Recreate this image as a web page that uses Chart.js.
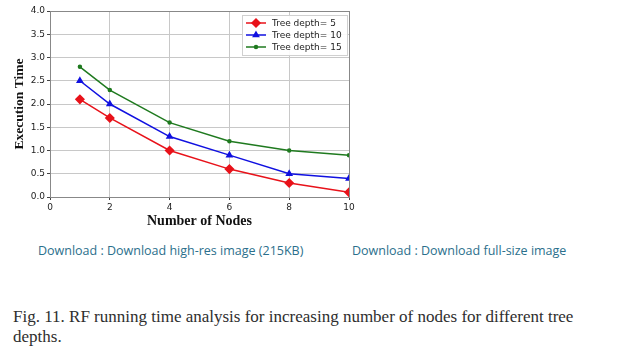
<!DOCTYPE html>
<html><head><meta charset="utf-8">
<script src="https://cdn.jsdelivr.net/npm/chart.js@4/dist/chart.umd.min.js"></script>
<style>
body{margin:0;background:#fff;width:643px;height:357px;position:relative;overflow:hidden;}
#wrap{position:absolute;left:0;top:0;width:360px;height:230px;}
.dl{position:absolute;top:242px;font-family:"Open Sans",sans-serif;font-size:12.5px;color:#2b6f8c;white-space:nowrap;}
.cap{position:absolute;left:13px;top:307px;width:582px;font-family:"Liberation Serif",serif;font-size:17px;line-height:20px;color:#2e2e2e;}
</style></head><body>
<div id="wrap"><canvas id="c" width="360" height="230"></canvas></div>
<div class="dl" style="left:38px">Download : Download high-res image (215KB)</div>
<div class="dl" style="left:352px">Download : Download full-size image</div>
<div class="cap">Fig. 11. RF running time analysis for increasing number of nodes for different tree depths.</div>
<script>
const nodes = [1, 2, 4, 6, 8, 10];
const depth5 = [2.1, 1.7, 1.0, 0.6, 0.3, 0.1];
const depth10 = [2.5, 2.0, 1.3, 0.9, 0.5, 0.4];
const depth15 = [2.8, 2.3, 1.6, 1.2, 1.0, 0.9];
const seriesNames = ['Tree depth= 5', 'Tree depth= 10', 'Tree depth= 15'];

const toXY = arr => arr.map((v, i) => ({x: nodes[i], y: v}));

const legendPlugin = {
  id: 'boxLegend',
  afterDraw(chart) {
    const ctx = chart.ctx;
    const x0 = 242, y0 = 15, w = 105, h = 40;
    ctx.save();
    ctx.fillStyle = 'rgba(255,255,255,0.9)';
    ctx.strokeStyle = '#d0d0d0';
    ctx.lineWidth = 1;
    ctx.fillRect(x0, y0, w, h);
    ctx.strokeRect(x0 + 0.5, y0 + 0.5, w, h);
    chart.data.datasets.forEach((ds, i) => {
      const y = y0 + 8 + i * 12;
      ctx.strokeStyle = ds.borderColor;
      ctx.lineWidth = 1.5;
      ctx.beginPath(); ctx.moveTo(x0 + 4, y); ctx.lineTo(x0 + 24, y); ctx.stroke();
      ctx.fillStyle = ds.backgroundColor;
      Chart.helpers.drawPoint(ctx, {pointStyle: ds.pointStyle, radius: ds.pointRadius, borderWidth: 1}, x0 + 14, y);
      ctx.fillStyle = '#222';
      ctx.font = '9px "DejaVu Sans", sans-serif';
      ctx.textBaseline = 'middle';
      ctx.fillText(ds.label, x0 + 30, y + 0.5);
    });
    ctx.restore();
  }
};

const borderPlugin = {
  id: 'frame',
  afterDraw(chart) {
    const a = chart.chartArea, ctx = chart.ctx;
    ctx.save();
    ctx.strokeStyle = '#888';
    ctx.lineWidth = 1;
    ctx.strokeRect(a.left + 0.5, a.top + 0.5, a.right - a.left, a.bottom - a.top);
    ctx.restore();
  }
};

new Chart(document.getElementById('c'), {
  type: 'line',
  data: {
    datasets: [
      {label: seriesNames[0], data: toXY(depth5), borderColor: '#e8121a', backgroundColor: '#e8121a', pointStyle: 'rectRot', pointRadius: 4, borderWidth: 1.5},
      {label: seriesNames[1], data: toXY(depth10), borderColor: '#1010e0', backgroundColor: '#1010e0', pointStyle: 'triangle', pointRadius: 3, borderWidth: 1.5},
      {label: seriesNames[2], data: toXY(depth15), borderColor: '#1f7a1f', backgroundColor: '#1f7a1f', pointStyle: 'circle', pointRadius: 1.5, borderWidth: 1.5}
    ]
  },
  options: {
    responsive: false,
    animation: false,
    layout: {padding: {top: 11, right: 11, left: 11, bottom: 0}},
    plugins: {legend: {display: false}, tooltip: {enabled: false}},
    elements: {line: {tension: 0}},
    scales: {
      x: {
        type: 'linear', min: 0, max: 10,
        ticks: {stepSize: 2, color: '#222', font: {size: 9, family: '"DejaVu Sans", sans-serif'}, padding: 2},
        grid: {color: '#c8c8c8', drawTicks: true, tickLength: 3, tickColor: '#444'},
        border: {display: false},
        title: {display: true, text: 'Number of Nodes', color: '#111', font: {family: '"Liberation Serif", serif', size: 14, weight: 'bold'}, padding: {top: 0, bottom: 0}},
        afterFit(s) { s.height = 33; }
      },
      y: {
        min: 0, max: 4,
        ticks: {stepSize: 0.5, color: '#222', font: {size: 9, family: '"DejaVu Sans", sans-serif'}, padding: 2, callback: v => v.toFixed(1)},
        grid: {color: '#c8c8c8', tickLength: 3, tickColor: '#444'},
        border: {display: false},
        title: {display: true, text: 'Execution Time', color: '#111', font: {family: '"Liberation Serif", serif', size: 13.5, weight: 'bold'}, padding: {top: 0, bottom: 0}},
        afterFit(s) { s.width = 39; }
      }
    }
  },
  plugins: [borderPlugin, legendPlugin]
});
</script>
</body></html>
